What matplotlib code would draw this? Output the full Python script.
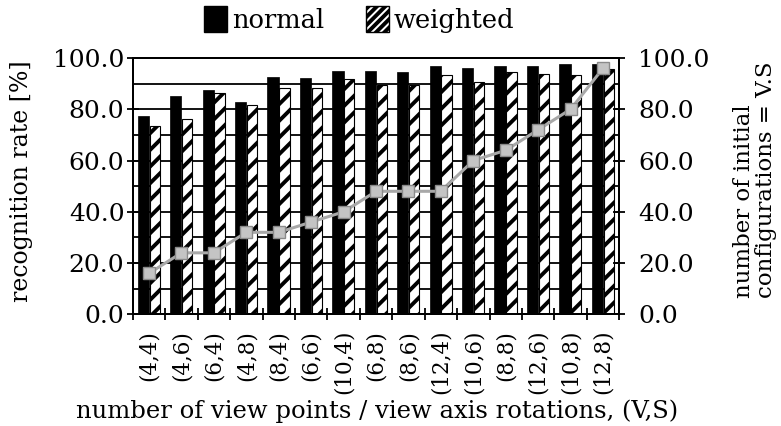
import matplotlib
matplotlib.use("Agg")
import matplotlib.pyplot as plt
from matplotlib.patches import Patch
from matplotlib.ticker import FixedLocator, MultipleLocator
import numpy as np

plt.rcParams['font.family'] = ['DejaVu Serif']
plt.rcParams['hatch.linewidth'] = 2.8

categories = ["(4,4)", "(4,6)", "(6,4)", "(4,8)", "(8,4)", "(6,6)", "(10,4)", "(6,8)",
              "(8,6)", "(12,4)", "(10,6)", "(8,8)", "(12,6)", "(10,8)", "(12,8)"]
normal = [77.2, 85.0, 87.4, 83.0, 92.5, 92.0, 94.8, 95.0, 94.7, 96.8, 96.1, 96.8, 96.8, 97.6, 97.8]
weighted = [73.3, 76.2, 86.3, 81.6, 88.1, 88.1, 91.8, 89.6, 89.6, 93.5, 90.7, 94.6, 93.9, 93.5, 95.6]
configs = [16, 24, 24, 32, 32, 36, 40, 48, 48, 48, 60, 64, 72, 80, 96]

x = np.arange(len(categories))
w = 0.35

fig = plt.figure(figsize=(7.81, 4.26), dpi=100)
ax = fig.add_axes([0.170, 0.262, 0.623, 0.602])

ax.set_axisbelow(True)
ax.yaxis.grid(True, which='both', color='black', linewidth=1.3)
ax.bar(x - w / 2, normal, width=w, color='black', edgecolor='black', linewidth=0.5, zorder=2)
ax.bar(x + w / 2, weighted, width=w * 0.9, color='white', edgecolor='black', hatch='//',
       linewidth=0.8, zorder=2)

ax.set_xlim(-0.5, len(categories) - 0.5)
ax.set_ylim(0, 100)
ax.yaxis.set_major_locator(MultipleLocator(20))
ax.yaxis.set_minor_locator(MultipleLocator(10))
ax.yaxis.set_major_formatter(plt.FuncFormatter(lambda v, p: f"{v:.1f}"))
ax.tick_params(axis='y', which='major', direction='inout', length=9, width=1.3, labelsize=18, pad=1.5)
ax.tick_params(axis='y', which='minor', length=0)

ax.xaxis.set_major_locator(FixedLocator(np.arange(-0.5, len(categories), 1.0)))
ax.xaxis.set_minor_locator(FixedLocator(x))
ax.set_xticklabels([], minor=False)
ax.set_xticklabels(categories, minor=True, rotation=90)
ax.tick_params(axis='x', which='major', direction='inout', length=9, width=1.3)
ax.tick_params(axis='x', which='minor', length=0, labelsize=15.5, pad=11)

for s in ax.spines.values():
    s.set_linewidth(1.4)

fig.text(22 / 781, 1 - 181 / 426, "recognition rate [%]", fontsize=17,
         rotation=90, ha='center', va='center')
fig.text(0.483, 1 - 411 / 426, "number of view points / view axis rotations, (V,S)",
         fontsize=17.5, ha='center', va='center')

ax2 = ax.twinx()
ax2.plot(x, configs, color='#a8a8a8', linewidth=2.2, marker='s', markersize=8,
         markerfacecolor='#c4c4c4', markeredgecolor='#8a8a8a', markeredgewidth=1, zorder=5)
ax2.set_ylim(0, 100)
ax2.yaxis.set_major_locator(MultipleLocator(20))
ax2.yaxis.set_major_formatter(plt.FuncFormatter(lambda v, p: f"{v:.1f}"))
ax2.tick_params(axis='y', direction='inout', length=9, width=1.3, labelsize=18, pad=9)
for s in ax2.spines.values():
    s.set_linewidth(1.4)
fig.text(755 / 781, 1 - 180 / 426, "number of initial\nconfigurations = V.S", fontsize=16.5,
         rotation=90, ha='center', va='center', multialignment='left', linespacing=1.05)

handles = [Patch(facecolor='black', edgecolor='black', label='normal'),
           Patch(facecolor='white', edgecolor='black', hatch='////', label='weighted')]
fig.legend(handles=handles, loc='center', bbox_to_anchor=(0.46, 0.955), ncol=2, frameon=False,
           fontsize=18.5, handlelength=0.9, handleheight=1.2, handletextpad=0.2, columnspacing=1.6)

fig.savefig("out.png", dpi=100)
